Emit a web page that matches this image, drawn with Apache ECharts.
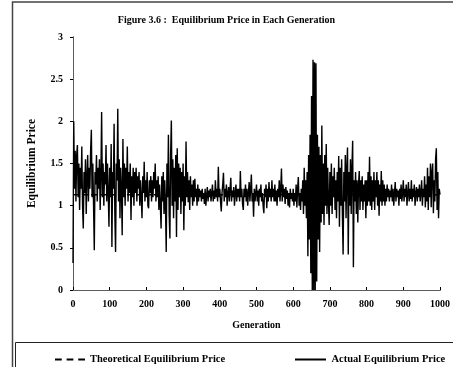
<!DOCTYPE html>
<html>
<head>
<meta charset="utf-8">
<script src="https://cdn.jsdelivr.net/npm/echarts@6/dist/echarts.min.js"></script>
<style>
  html, body { margin: 0; padding: 0; background: #fff; }
  #chart { width: 453px; height: 367px; }
</style>
</head>
<body>
<div id="chart"></div>
<script>
var genStep = 2;
var actualPrice = [
  0.32, 2.0, 1.2, 1.65, 1.05, 1.6, 1.72, 1.1, 1.5, 0.95, 1.45, 1.2, 1.7, 1.0, 0.73, 1.4, 1.15, 1.55, 0.9, 1.35, 1.6, 1.05, 1.45, 1.2, 1.65,
  1.9, 1.1, 1.5, 1.0, 0.47, 1.4, 1.25, 1.6, 1.05, 1.45, 1.2, 1.55, 0.95, 1.35, 2.11, 1.1, 1.5, 1.0, 1.4, 1.25, 1.72, 1.05, 1.5, 1.15, 0.75,
  1.45, 1.1, 1.73, 0.51, 1.4, 1.2, 1.97, 0.9, 0.45, 1.5, 1.3, 2.15, 1.05, 1.55, 0.85, 1.45, 1.2, 0.65, 1.79, 1.1, 1.5, 1.0, 1.45, 1.2, 1.7,
  1.05, 1.4, 1.15, 1.5, 0.83, 1.35, 1.1, 1.45, 1.0, 1.4, 1.15, 1.45, 1.05, 1.35, 1.2, 1.4, 1.0, 1.3, 1.1, 0.85, 1.35, 1.15, 1.52, 1.05, 1.3,
  1.1, 1.4, 1.0, 0.97, 1.3, 1.15, 1.35, 1.05, 1.3, 1.1, 1.4, 1.2, 1.5, 1.05, 1.3, 1.1, 1.35, 0.95, 1.25, 1.0, 0.73, 1.35, 1.05, 1.4, 0.9,
  1.3, 1.0, 0.45, 1.5, 1.1, 1.84, 0.9, 0.61, 1.6, 2.01, 1.0, 1.55, 0.85, 1.45, 1.05, 1.6, 0.63, 1.68, 0.95, 1.5, 1.1, 1.45, 0.9, 1.4, 1.05,
  1.5, 0.71, 1.35, 1.0, 1.76, 1.1, 1.4, 1.04, 1.3, 0.95, 1.35, 1.1, 1.25, 1.0, 1.3, 1.05, 1.32, 1.1, 1.2, 1.0, 1.25, 1.05, 1.2, 1.1, 1.18,
  1.05, 1.2, 1.08, 1.15, 1.02, 1.2, 1.0, 1.12, 1.22, 1.05, 1.18, 1.1, 1.2, 1.05, 1.15, 1.25, 1.05, 1.18, 1.08, 1.3, 1.1, 1.2, 1.05, 1.46, 1.1,
  1.2, 1.05, 0.93, 1.15, 1.25, 1.39, 1.05, 1.2, 1.1, 1.25, 1.0, 1.15, 1.22, 1.05, 1.2, 1.33, 1.05, 1.18, 1.1, 1.22, 1.0, 1.15, 1.25, 1.05, 1.2,
  1.1, 1.2, 1.05, 1.41, 1.1, 1.2, 1.02, 0.95, 1.2, 1.1, 1.25, 1.05, 1.2, 1.0, 1.15, 1.28, 1.05, 1.2, 1.37, 1.05, 1.15, 0.87, 1.2, 1.05, 1.15,
  1.25, 1.05, 1.18, 1.0, 1.2, 1.1, 1.25, 1.05, 1.15, 1.0, 0.91, 1.2, 1.1, 1.25, 0.97, 1.2, 1.05, 1.28, 1.1, 1.2, 1.05, 1.3, 1.1, 1.2, 1.05,
  1.25, 1.05, 1.18, 1.0, 1.2, 1.1, 1.3, 1.05, 1.2, 1.44, 1.05, 1.25, 1.1, 1.2, 1.02, 1.22, 1.08, 1.18, 1.0, 1.15, 0.98, 1.2, 1.08, 1.15, 1.05,
  1.2, 1.0, 1.15, 1.05, 1.25, 0.98, 1.2, 1.34, 1.0, 1.15, 0.95, 1.2, 1.05, 1.3, 0.9, 1.45, 1.0, 1.3, 0.85, 1.4, 0.4, 1.6, 0.6, 1.84, 0.2,
  2.3, 0.0, 2.73, 0.0, 2.7, 0.0, 2.69, 0.1, 1.84, 0.6, 1.7, 0.45, 1.6, 0.8, 1.95, 0.9, 1.5, 0.77, 1.6, 1.0, 1.73, 0.9, 1.45, 1.05, 0.77,
  1.4, 1.0, 1.5, 0.9, 1.35, 1.1, 1.45, 0.95, 1.3, 0.85, 1.4, 1.05, 1.59, 0.75, 1.45, 1.0, 1.55, 0.9, 0.42, 1.4, 1.05, 1.6, 0.85, 1.45, 1.69,
  0.42, 1.4, 1.0, 1.55, 0.9, 1.45, 1.77, 0.27, 1.3, 1.05, 1.4, 0.9, 1.3, 0.8, 1.25, 1.41, 0.95, 1.3, 1.05, 1.35, 0.95, 1.25, 1.05, 1.3, 0.85,
  1.3, 1.0, 1.4, 1.05, 1.58, 1.0, 1.35, 0.95, 1.3, 1.05, 1.4, 0.95, 1.3, 1.1, 1.4, 1.0, 1.3, 0.88, 1.25, 1.05, 1.41, 1.0, 1.3, 1.05, 1.25,
  1.0, 1.2, 1.05, 1.25, 1.1, 1.2, 1.05, 1.18, 1.1, 1.25, 1.05, 1.2, 1.0, 1.15, 1.28, 1.05, 1.2, 1.1, 1.18, 1.0, 1.2, 1.08, 1.25, 1.05, 1.15,
  1.3, 1.05, 1.2, 1.1, 1.25, 1.0, 1.15, 1.28, 1.05, 1.2, 1.08, 1.3, 1.05, 1.2, 1.1, 1.25, 1.0, 1.15, 1.22, 1.05, 1.2, 1.1, 1.25, 1.05, 1.15,
  1.3, 1.0, 1.2, 1.1, 1.35, 0.98, 1.25, 1.05, 1.45, 0.95, 1.35, 1.1, 1.5, 0.98, 1.4, 1.5, 0.91, 1.3, 1.05, 1.55, 1.68, 0.95, 1.4, 0.85, 1.2,
  1.13
];
var theoreticalPrice = 1.13;
var genRange = [0, 1000];
var priceRange = [0, 3];

var serif = '"Liberation Serif", "DejaVu Serif", serif';
var txt = { fontFamily: serif, fontWeight: 'bold', fontSize: 10, color: '#000' };
var legendTxt = { fontFamily: serif, fontWeight: 'bold', fontSize: 10.5, color: '#000' };

var actualData = actualPrice.map(function (v, i) { return [i * genStep, v]; });
var theoData = [[genRange[0], theoreticalPrice], [genRange[1], theoreticalPrice]];

var chart = echarts.init(document.getElementById('chart'));
chart.setOption({
  animation: false,
  backgroundColor: '#fff',
  title: {
    text: 'Figure 3.6 :  Equilibrium Price in Each Generation',
    left: 'center',
    top: 10,
    textStyle: { fontFamily: serif, fontWeight: 'bold', fontSize: 10, color: '#000' }
  },
  grid: { left: 73, right: 8, top: 37, bottom: 77 },
  legend: [{
    top: 349,
    left: 50,
    itemWidth: 30,
    itemHeight: 2,
    textStyle: legendTxt,
    data: [{ name: 'Theoretical Equilibrium Price', icon: 'path://M0,0h7v2h-7z M12,0h7v2h-7z M24,0h7v2h-7z' }]
  }, {
    top: 349,
    left: 290,
    itemWidth: 32,
    itemHeight: 2,
    textStyle: legendTxt,
    data: [{ name: 'Actual Equilibrium Price', icon: 'path://M0,0h31v2h-31z' }]
  }],
  graphic: [
    { type: 'rect', shape: { x: 12.5, y: 2, width: 460, height: 400 },
      style: { fill: 'none', stroke: '#444', lineWidth: 1.5 }, silent: true },
    { type: 'rect', shape: { x: 15.5, y: 342.5, width: 460, height: 40 },
      style: { fill: 'none', stroke: '#222', lineWidth: 1 }, silent: true }
  ],
  xAxis: [{
    type: 'value',
    min: genRange[0], max: genRange[1], interval: 100,
    name: 'Generation',
    nameLocation: 'middle',
    nameGap: 30,
    nameTextStyle: txt,
    axisLine: { lineStyle: { color: '#333', type: 'dotted' } },
    axisTick: { inside: true, length: 3, lineStyle: { color: '#000' } },
    axisLabel: Object.assign({ margin: 9, formatter: function (v) { return String(v); } }, txt),
    splitLine: { show: false }
  }, {
    type: 'value', position: 'top',
    min: genRange[0], max: genRange[1],
    axisLine: { show: true, lineStyle: { color: '#555', type: 'dotted' } },
    axisTick: { show: false }, axisLabel: { show: false }, splitLine: { show: false }
  }],
  yAxis: [{
    type: 'value',
    min: priceRange[0], max: priceRange[1], interval: 0.5,
    name: 'Equilibrium Price',
    nameLocation: 'middle',
    nameGap: 35,
    nameTextStyle: { fontFamily: serif, fontWeight: 'bold', fontSize: 11.5, color: '#000' },
    axisLine: { show: true, lineStyle: { color: '#333', type: 'dotted' } },
    axisTick: { show: true, length: 3, lineStyle: { color: '#000' } },
    axisLabel: Object.assign({ margin: 10 }, txt),
    splitLine: { show: false }
  }, {
    type: 'value', position: 'right',
    min: priceRange[0], max: priceRange[1],
    axisLine: { show: true, lineStyle: { color: '#555', type: 'dotted' } },
    axisTick: { show: false }, axisLabel: { show: false }, splitLine: { show: false }
  }],
  series: [
    {
      name: 'Theoretical Equilibrium Price',
      type: 'line',
      data: theoData,
      showSymbol: false,
      symbol: 'none',
      color: '#000',
      z: 3,
      lineStyle: { color: '#000', width: 1.5, type: 'dashed' }
    },
    {
      name: 'Actual Equilibrium Price',
      type: 'line',
      data: actualData,
      showSymbol: false,
      symbol: 'none',
      color: '#000',
      z: 2,
      lineStyle: { color: '#000', width: 1.4 }
    }
  ]
});
</script>
</body>
</html>
